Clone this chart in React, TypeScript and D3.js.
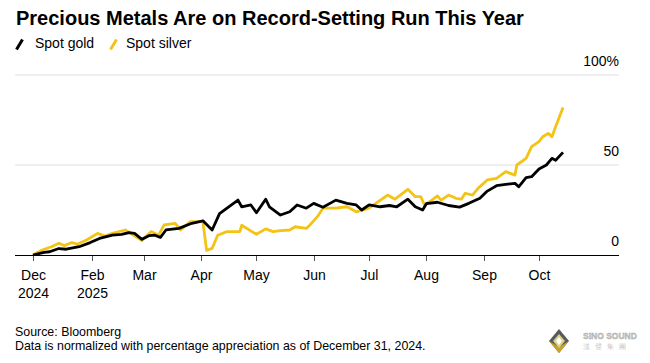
import React from 'react';
import * as d3 from 'd3';

// Percent change since Dec 31, 2024
const goldDates = [
  '2024-12-31', '2025-01-06', '2025-01-09', '2025-01-14', '2025-01-18', '2025-01-25', '2025-01-31',
  '2025-02-05', '2025-02-12', '2025-02-17', '2025-02-21', '2025-02-24', '2025-02-28', '2025-03-04',
  '2025-03-07', '2025-03-10', '2025-03-13', '2025-03-20', '2025-03-27', '2025-04-02', '2025-04-07',
  '2025-04-11', '2025-04-16', '2025-04-21', '2025-04-23', '2025-04-28', '2025-05-01', '2025-05-06',
  '2025-05-08', '2025-05-14', '2025-05-19', '2025-05-23', '2025-05-28', '2025-06-01', '2025-06-06',
  '2025-06-13', '2025-06-19', '2025-06-24', '2025-06-27', '2025-07-01', '2025-07-07', '2025-07-12',
  '2025-07-16', '2025-07-22', '2025-07-26', '2025-07-30', '2025-08-01', '2025-08-07', '2025-08-13',
  '2025-08-19', '2025-08-24', '2025-08-30', '2025-09-03', '2025-09-08', '2025-09-13', '2025-09-18',
  '2025-09-20', '2025-09-24', '2025-09-27', '2025-10-01', '2025-10-05', '2025-10-08', '2025-10-10',
  '2025-10-14',
];
const goldValues = [
  0, 1.5, 1.8, 3.6, 3.2, 4.6, 6.9,
  9.2, 11.0, 11.5, 12.4, 12.0, 8.7, 10.8,
  11.0, 9.8, 13.9, 14.8, 17.6, 19.0, 13.9,
  23.0, 26.8, 30.5, 26.8, 27.8, 23.5, 31.0,
  26.8, 22.2, 24.0, 27.8, 26.0, 28.7, 26.5,
  30.5, 28.7, 27.8, 25.0, 27.8, 26.8, 27.5,
  26.8, 31.0, 26.8, 25.0, 28.5, 29.3, 27.5,
  26.6, 28.7, 31.5, 35.5, 38.5, 39.2, 39.8,
  37.9, 43.0, 43.5, 47.8, 50.0, 53.7, 52.6,
  57.0,
];

const silverDates = [
  '2024-12-31', '2025-01-05', '2025-01-10', '2025-01-14', '2025-01-17', '2025-01-21', '2025-01-24',
  '2025-01-29', '2025-02-04', '2025-02-08', '2025-02-12', '2025-02-19', '2025-02-28', '2025-03-05',
  '2025-03-09', '2025-03-12', '2025-03-18', '2025-03-21', '2025-03-26', '2025-04-02', '2025-04-04',
  '2025-04-07', '2025-04-10', '2025-04-15', '2025-04-22', '2025-04-23', '2025-05-01', '2025-05-06',
  '2025-05-10', '2025-05-14', '2025-05-19', '2025-05-22', '2025-05-28', '2025-05-30', '2025-06-03',
  '2025-06-06', '2025-06-13', '2025-06-19', '2025-06-24', '2025-07-01', '2025-07-11', '2025-07-15',
  '2025-07-22', '2025-07-26', '2025-07-29', '2025-07-31', '2025-08-04', '2025-08-07', '2025-08-09',
  '2025-08-13', '2025-08-17', '2025-08-20', '2025-08-22', '2025-08-26', '2025-08-29', '2025-09-03',
  '2025-09-08', '2025-09-13', '2025-09-18', '2025-09-19', '2025-09-24', '2025-09-27', '2025-10-01',
  '2025-10-03', '2025-10-06', '2025-10-08', '2025-10-10', '2025-10-14',
];
const silverValues = [
  0, 2.8, 4.6, 6.5, 5.2, 6.9, 6.0,
  8.3, 12.0, 10.5, 12.0, 13.9, 8.0, 13.0,
  11.0, 16.7, 17.6, 13.9, 18.5, 18.5, 2.6,
  3.7, 11.0, 13.0, 13.0, 16.5, 11.5, 14.5,
  13.0, 13.5, 13.9, 15.7, 14.8, 16.7, 21.3,
  26.0, 26.0, 26.8, 24.0, 26.0, 33.3, 31.0,
  36.5, 32.4, 32.4, 27.8, 30.5, 32.8, 30.5,
  33.3, 31.5, 31.0, 34.3, 33.3, 37.0, 41.7,
  42.6, 46.3, 44.4, 50.0, 53.7, 60.2, 63.0,
  65.7, 67.6, 65.7, 71.3, 82.0,
];

const tickDates = ['2024-12-31', '2025-02-01', '2025-03-01', '2025-04-01', '2025-05-01', '2025-06-01', '2025-07-01', '2025-08-01', '2025-09-01', '2025-10-01'];
const tickLabels = [['Dec', '2024'], ['Feb', '2025'], ['Mar'], ['Apr'], ['May'], ['Jun'], ['Jul'], ['Aug'], ['Sep'], ['Oct']];
const yTicks = [0, 50, 100];

const GOLD = '#000000';
const SILVER = '#f3c316';
const FONT = '"Liberation Sans", Arial, sans-serif';

const parse = d3.timeParse('%Y-%m-%d');

export default function App() {
  const width = 650;
  const height = 363;
  const left = 15;
  const right = 619;

  const x = d3.scaleTime()
    .domain([parse('2024-12-31'), parse('2025-10-01')])
    .range([33, 539]);
  const y = d3.scaleLinear().domain([0, 100]).range([255, 75]);

  const line = d3.line<[Date, number]>()
    .x((d) => x(d[0]))
    .y((d) => y(d[1]))
    .curve(d3.curveLinear);

  const gold = goldDates.map((d, i) => [parse(d), goldValues[i]] as [Date, number]);
  const silver = silverDates.map((d, i) => [parse(d), silverValues[i]] as [Date, number]);

  return (
    <div style={{ position: 'absolute', left: 0, top: 0 }}>
      <svg width={width} height={height} style={{ display: 'block', background: '#fff' }} fontFamily={FONT}>
        <text x={16} y={25} fontSize={20} fontWeight="bold" fill="#000">
          Precious Metals Are on Record-Setting Run This Year
        </text>

        {/* legend */}
        <line x1={16.5} y1={49.5} x2={22.5} y2={39.5} stroke={GOLD} strokeWidth={3} />
        <text x={35} y={48} fontSize={14} fill="#000">Spot gold</text>
        <line x1={110.5} y1={49.5} x2={116.5} y2={39.5} stroke={SILVER} strokeWidth={3} />
        <text x={126} y={48} fontSize={14} fill="#000">Spot silver</text>

        {/* gridlines */}
        {yTicks.filter((t) => t > 0).map((t) => (
          <line key={t} x1={left} x2={right} y1={y(t)} y2={y(t)} stroke="#e0e0e0" strokeWidth={1} />
        ))}
        {yTicks.map((t) => (
          <text key={'l' + t} x={619} y={y(t) - 9} fontSize={14} fill="#000" textAnchor="end">
            {t}
            {t === 100 ? <tspan>%</tspan> : null}
          </text>
        ))}

        {/* series */}
        <path d={line(silver) || ''} fill="none" stroke={SILVER} strokeWidth={2.8} strokeLinejoin="round" />
        <path d={line(gold) || ''} fill="none" stroke={GOLD} strokeWidth={2.8} strokeLinejoin="round" />

        {/* x axis */}
        <line x1={left} x2={right} y1={255.5} y2={255.5} stroke="#000" strokeWidth={1} />
        {tickDates.map((d, i) => {
          const xx = Math.round(x(parse(d))) + 0.5;
          return (
            <g key={d}>
              <line x1={xx} x2={xx} y1={256} y2={261} stroke="#555" strokeWidth={1} />
              {tickLabels[i].map((s, j) => (
                <text key={j} x={xx} y={280 + j * 18} fontSize={14} fill="#000" textAnchor="middle">{s}</text>
              ))}
            </g>
          );
        })}

        {/* footer */}
        <text x={15} y={336} fontSize={12.4} fill="#000">Source: Bloomberg</text>
        <text x={15} y={350} fontSize={12.4} fill="#000">Data is normalized with percentage appreciation as of December 31, 2024.</text>

        {/* watermark logo */}
        <g>
          <polygon points="559,329 569,341 559,353 549,341" fill="#5a5a5a" />
          <polygon points="549,341 559,353 569,341 559,347" fill="#c9a227" />
          <polygon points="559,334 565,341 559,348 553,341" fill="#d8d28a" />
          <polygon points="559,337 562,341 559,345 556,341" fill="#ffffff" />
          <text x={583} y={339} fontSize={8.5} fontWeight="bold" fill="#c8c8c8" stroke="#9a9a9a" strokeWidth={0.3}>SINO SOUND</text>
          <text x={583} y={349} fontSize={7} fill="#c8c8c8" letterSpacing={5}>漢聲集團</text>
        </g>
      </svg>
    </div>
  );
}
